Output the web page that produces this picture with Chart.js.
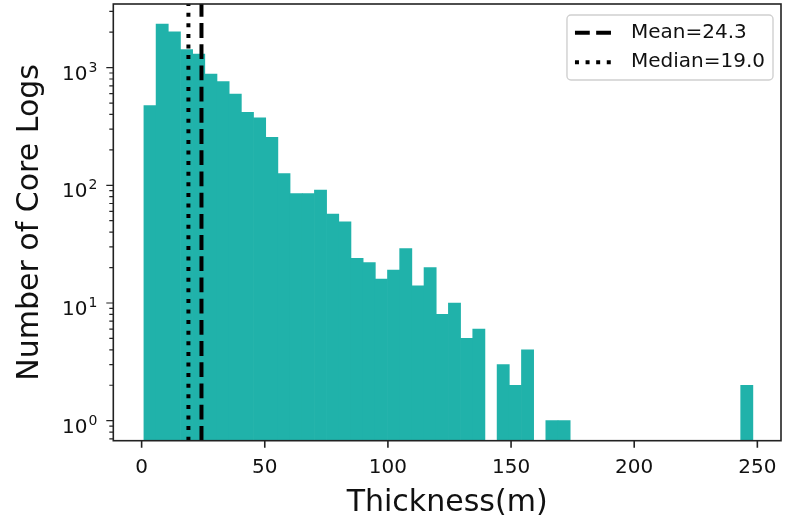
<!DOCTYPE html>
<html>
<head>
<meta charset="utf-8">
<script src="https://cdn.jsdelivr.net/npm/chart.js@4"></script>
<style>
  html, body { margin: 0; padding: 0; background: #fff; }
  #chart { display: block; }
</style>
</head>
<body>
<canvas id="chart" width="785" height="523"></canvas>
<script>
// Histogram: 50 bins of thickness (m), counts
const BIN_START = 0.93;
const BIN_WIDTH = 4.945;
const COUNTS = [475, 2345, 2010, 1420, 1300, 883, 759, 595, 417, 375,
                255, 126, 85, 85, 91, 57, 49, 24, 22, 16,
                19, 29, 14, 20, 8, 10, 5, 6, 0, 3,
                2, 4, 0, 1, 1, 0, 0, 0, 0, 0,
                0, 0, 0, 0, 0, 0, 0, 0, 0, 2];
const MEAN = 24.3;
const MEDIAN = 19.0;

// axes
const X_TICKS = [0, 50, 100, 150, 200, 250];
const Y_MAJOR = [1, 10, 100, 1000];
const X_MIN = -11.5, X_MAX = 259.6;
const Y_MIN = 0.676, Y_MAX = 3470;

const FONT = "'DejaVu Sans', sans-serif";
const TEXT = "#111";

// minor ticks at 2..9 x each decade, inside the axis range
function logTicks(){
  const out = [];
  [0.1].concat(Y_MAJOR).forEach(function(d){
    for(let k=1;k<=9;k++){
      const v = k*d;
      if(v >= Y_MIN && v <= Y_MAX) out.push({value: v, major: k === 1});
    }
  });
  return out;
}

const barData = COUNTS.map(function(c, i){
  return { x: BIN_START + (i + 0.5) * BIN_WIDTH, y: c > 0 ? c : null };
});

// ticks, 10^n labels, frame and legend drawn like matplotlib
const axesDecor = {
  id: "axesDecor",
  afterDraw(chart){
    const {ctx, chartArea: a, scales: {x, y}} = chart;
    ctx.save();
    ctx.strokeStyle = "#222";
    ctx.lineWidth = 1.6;
    ctx.beginPath();
    x.ticks.forEach(function(t){
      const px = x.getPixelForValue(t.value);
      ctx.moveTo(px, a.bottom); ctx.lineTo(px, a.bottom + 7);
    });
    ctx.stroke();
    ctx.lineWidth = 1.2;
    ctx.beginPath();
    y.ticks.forEach(function(t){
      const py = y.getPixelForValue(t.value);
      ctx.moveTo(a.left, py); ctx.lineTo(a.left - (t.major ? 7 : 4), py);
    });
    ctx.stroke();
    ctx.lineWidth = 1.6;
    ctx.strokeRect(a.left, a.top, a.right - a.left, a.bottom - a.top);

    // y labels: "10" with a raised exponent
    ctx.fillStyle = TEXT;
    ctx.textBaseline = "alphabetic";
    ctx.textAlign = "left";
    Y_MAJOR.forEach(function(v){
      const py = y.getPixelForValue(v);
      const exp = String(Math.round(Math.log10(v)));
      ctx.font = "14px " + FONT;
      const we = ctx.measureText(exp).width;
      ctx.font = "20px " + FONT;
      const wb = ctx.measureText("10").width;
      const right = a.left - 16;
      ctx.fillText("10", right - we - wb - 1, py + 12);
      ctx.font = "14px " + FONT;
      ctx.fillText(exp, right - we, py + 4);
    });

    // legend box, upper right inside the axes
    const items = chart.data.datasets.filter(d => d.type === "line");
    ctx.font = "20px " + FONT;
    const tw = Math.max.apply(null, items.map(d => ctx.measureText(d.label).width));
    const pad = 8, handle = 40, gap = 16, rowH = 19.5, rowGap = 10;
    const w = pad + handle + gap + tw + pad;
    const h = pad * 2 + rowH * items.length + rowGap * (items.length - 1);
    const bx = a.right - 8 - w, by = a.top + 11;
    ctx.beginPath();
    ctx.roundRect(bx, by, w, h, 4);
    ctx.fillStyle = "rgba(255,255,255,0.8)";
    ctx.fill();
    ctx.strokeStyle = "#d0d0d0";
    ctx.lineWidth = 1.4;
    ctx.stroke();
    items.forEach(function(d, i){
      const cy = by + pad + rowH / 2 + i * (rowH + rowGap);
      ctx.beginPath();
      ctx.setLineDash(d.borderDash);
      ctx.lineCap = "butt";
      ctx.strokeStyle = d.borderColor;
      ctx.lineWidth = d.borderWidth;
      ctx.moveTo(bx + pad, cy); ctx.lineTo(bx + pad + handle, cy);
      ctx.stroke();
      ctx.setLineDash([]);
      ctx.fillStyle = TEXT;
      ctx.textBaseline = "middle";
      ctx.textAlign = "left";
      ctx.fillText(d.label, bx + pad + handle + gap, cy);
    });
    ctx.restore();
  }
};

new Chart(document.getElementById("chart"), {
  type: "bar",
  data: {
    datasets: [
      { type: "line", label: "Mean=" + MEAN.toFixed(1),
        data: [{x: MEAN, y: Y_MIN}, {x: MEAN, y: Y_MAX}],
        borderColor: "#000", borderWidth: 4, borderDash: [14.8, 6.4],
        borderCapStyle: "butt", pointRadius: 0, order: 0 },
      { type: "line", label: "Median=" + MEDIAN.toFixed(1),
        data: [{x: MEDIAN, y: Y_MIN}, {x: MEDIAN, y: Y_MAX}],
        borderColor: "#000", borderWidth: 4, borderDash: [4, 6.6],
        borderCapStyle: "butt", pointRadius: 0, order: 0 },
      { label: "Thickness", data: barData, backgroundColor: "#20b2aa",
        borderWidth: 0, barPercentage: 1, categoryPercentage: 1, order: 1 }
    ]
  },
  options: {
    responsive: false,
    animation: false,
    events: [],
    layout: { padding: { top: 4, right: 4 } },
    plugins: { legend: { display: false }, tooltip: { enabled: false } },
    scales: {
      x: {
        type: "linear", min: X_MIN, max: X_MAX, offset: false,
        afterBuildTicks: s => { s.ticks = X_TICKS.map(v => ({value: v})); },
        afterFit: s => { s.height = 82.3; s.paddingLeft = 0; s.paddingRight = 0; },
        grid: { display: false, drawTicks: false },
        border: { display: false },
        ticks: { autoSkip: false, maxRotation: 0, padding: 15, color: TEXT,
                 font: { family: FONT, size: 20 } },
        title: { display: true, text: "Thickness(m)", color: TEXT,
                 font: { family: FONT, size: 30 }, padding: { top: 0, bottom: 2 } }
      },
      y: {
        type: "logarithmic", min: Y_MIN, max: Y_MAX,
        afterBuildTicks: s => { s.ticks = logTicks(); },
        afterFit: s => { s.width = 113.3; s.paddingTop = 0; s.paddingBottom = 0; },
        grid: { display: false, drawTicks: false },
        border: { display: false },
        ticks: { autoSkip: false, display: false },
        title: { display: true, text: "Number of Core Logs", color: TEXT,
                 font: { family: FONT, size: 30 }, padding: { top: 12, bottom: 0 } }
      }
    }
  },
  plugins: [axesDecor]
});
</script>
</body>
</html>
